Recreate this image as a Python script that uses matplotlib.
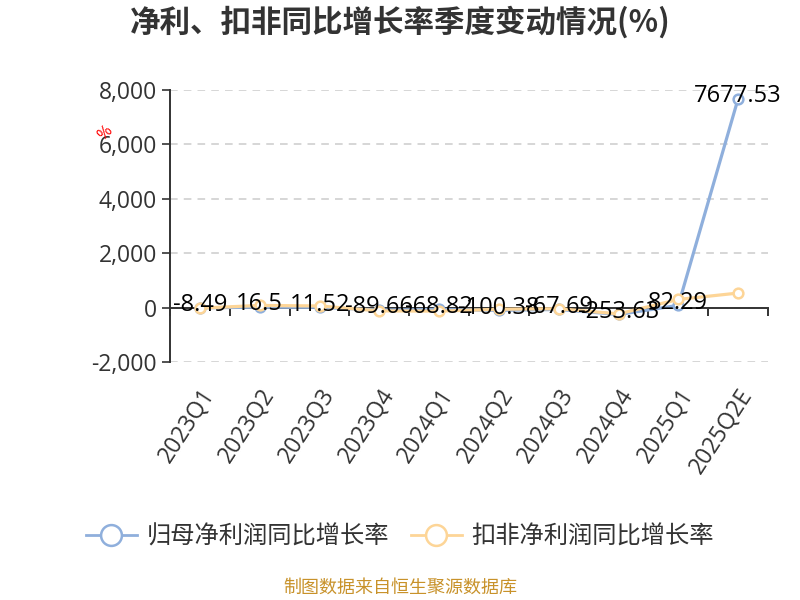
import matplotlib
matplotlib.use("Agg")
import matplotlib.pyplot as plt
from matplotlib.lines import Line2D
from matplotlib.ticker import FuncFormatter, FixedLocator
import numpy as np

plt.rcParams['font.family'] = ['Open Sans', 'Noto Sans CJK SC', 'DejaVu Sans']
plt.rcParams['axes.unicode_minus'] = False
CJK = ['Noto Sans CJK SC', 'DejaVu Sans']

categories = ["2023Q1", "2023Q2", "2023Q3", "2023Q4", "2024Q1", "2024Q2",
              "2024Q3", "2024Q4", "2025Q1", "2025Q2E"]
net_profit_yoy = [-8.49, 16.5, 11.52, -89.66, -68.82, -100.38, -67.69, -253.63, 82.29, 7677.53]
deducted_yoy = [-20, 80, 60, -120, -130, -60, -40, -230, 300, 535]
series_names = ["归母净利润同比增长率", "扣非净利润同比增长率"]
yticks = [-2000, 0, 2000, 4000, 6000, 8000]

blue = '#8fafdc'
orange = '#fdd597'
dark = '#333333'

fig = plt.figure(figsize=(8, 6), dpi=100)
ax = fig.add_axes([170/800, 1-362/600, (768-170)/800, (362-90)/600])

x = np.arange(len(categories))
ax.plot(x, net_profit_yoy, color=blue, lw=2.3, marker='o', ms=7, mfc='white',
        mec=blue, mew=1.8, zorder=3)
ax.plot(x, deducted_yoy, color=orange, lw=2.3, marker='o', ms=7, mfc='white',
        mec=orange, mew=1.8, zorder=4)

for xi, v in zip(x, net_profit_yoy):
    ax.annotate(f"{v:g}" if abs(v) < 1000 else f"{v:.2f}", (xi, v),
                xytext=(0, 2), textcoords='offset points',
                ha='center', va='center', fontsize=17, color='black', zorder=6)

ax.set_xlim(-0.5, len(categories) - 0.5)
ax.set_ylim(-2000, 8000)
ax.set_yticks(yticks)
ax.yaxis.set_major_formatter(FuncFormatter(lambda v, p: f"{v:,.0f}"))
ax.grid(axis='y', color='#cccccc', lw=1.1, linestyle=(0, (5, 4)))
ax.set_axisbelow(True)

for s in ['top', 'right']:
    ax.spines[s].set_visible(False)
ax.spines['left'].set_color(dark)
ax.spines['left'].set_linewidth(1.4)
ax.spines['bottom'].set_position(('data', 0))
ax.spines['bottom'].set_color(dark)
ax.spines['bottom'].set_linewidth(1.4)

ax.tick_params(axis='y', colors=dark, labelsize=16.5, length=6, width=1.2, direction='out')
ax.set_xticks(x)
ax.set_xticklabels(categories, rotation=57, ha='right', rotation_mode='anchor',
                   fontsize=16.5, color=dark)
ax.tick_params(axis='x', which='major', length=0, pad=55)
ax.xaxis.set_minor_locator(FixedLocator(np.arange(len(categories) + 1) - 0.5))
ax.tick_params(axis='x', which='minor', length=6, width=1.4, color=dark, direction='out')

fig.text(0.5, 1-22/600, "净利、扣非同比增长率季度变动情况(%)", ha='center', va='center',
         fontsize=22, fontweight='bold', color=dark, family=CJK)
fig.text(105/800, 1-133/600, "%", ha='center', va='center', fontsize=12,
         color='red', rotation=45)

handles = [Line2D([0], [0], color=blue, lw=2, marker='o', ms=15, mfc='white', mec=blue, mew=1.8),
           Line2D([0], [0], color=orange, lw=2, marker='o', ms=15, mfc='white', mec=orange, mew=1.8)]
fig.legend(handles, series_names, loc='center', bbox_to_anchor=(0.5, 1-537/600), ncol=2,
           frameon=False, handlelength=2.1, columnspacing=0.9,
           handletextpad=0.4, labelcolor=dark,
           prop={'family': CJK, 'size': 17.5})

fig.text(0.5, 1-588/600, "制图数据来自恒生聚源数据库", ha='center', va='center',
         fontsize=13, color='#c8922a', family=CJK)

fig.savefig("out.png", dpi=100)
